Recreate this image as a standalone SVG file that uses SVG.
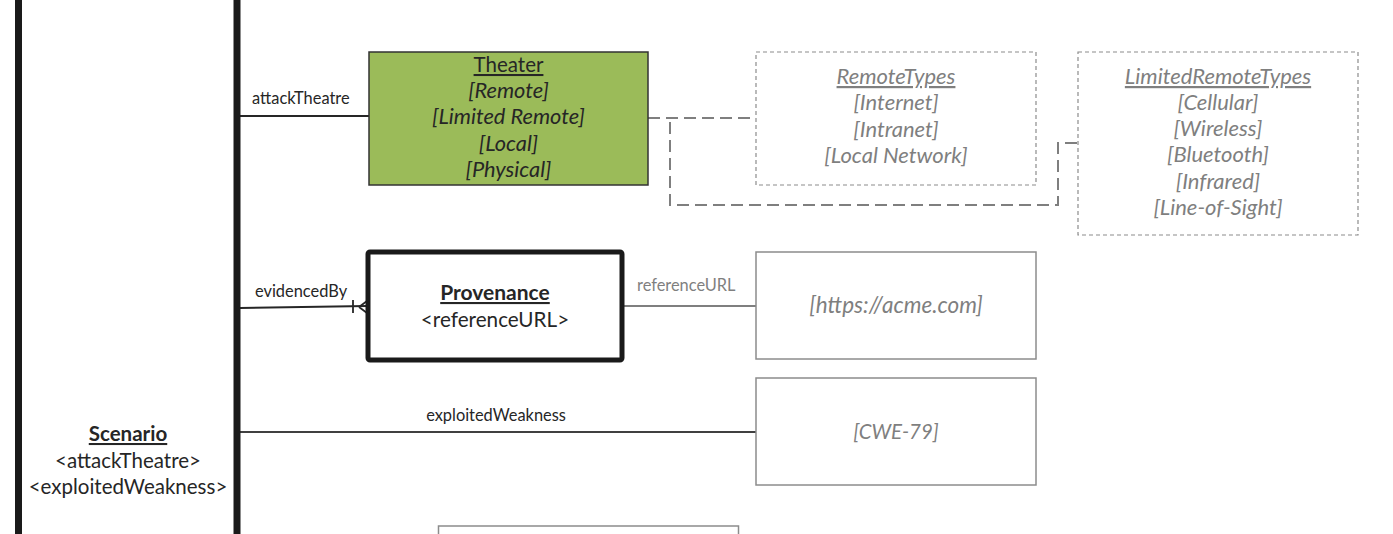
<svg xmlns="http://www.w3.org/2000/svg" width="1393" height="534" viewBox="0 0 1393 534">
<style>
text{font-family:Lato,"Open Sans","Liberation Sans",sans-serif;}
.c{text-anchor:middle;}
.it{font-style:italic;}
.u{text-decoration:underline;}
.b{font-weight:bold;}
.dk{fill:#262626;}
.gr{fill:#7f7f7f;}
.lbl{font-size:16.4px;fill:#262626;}
.dash{fill:#fff;stroke:#8c8c8c;stroke-width:1.2;stroke-dasharray:4 3;}
.plain{fill:#fff;stroke:#8c8c8c;stroke-width:1.5;}
.t20{font-size:20.5px;}
.t22{font-size:22px;}
</style>
<rect width="1393" height="534" fill="#fff"/>
<g id="connectors" fill="none">
<line x1="240" y1="116" x2="369" y2="116" stroke="#262626" stroke-width="2"/>
<path d="M648 118 H756" stroke="#7f7f7f" stroke-width="2" stroke-dasharray="12 6"/>
<path d="M670 122 V205 H1058 V143 H1078" stroke="#7f7f7f" stroke-width="2" stroke-dasharray="12 6"/>
<path d="M240 308 L367 306" stroke="#262626" stroke-width="2"/>
<path d="M353 300 V313 M359 307 L367 301 M359 307 L367 313" stroke="#262626" stroke-width="1.8"/>
<line x1="622" y1="306" x2="756" y2="306" stroke="#7f7f7f" stroke-width="2"/>
<line x1="240" y1="432" x2="756" y2="432" stroke="#404040" stroke-width="2"/>
</g>
<g id="labels">
<text class="lbl" x="252" y="104">attackTheatre</text>
<text class="lbl" x="255" y="297">evidencedBy</text>
<text class="lbl" x="637" y="291" style="fill:#7f7f7f">referenceURL</text>
<text class="lbl c" x="496" y="421">exploitedWeakness</text>
</g>
<g id="scenario">
<rect x="18.5" y="-10" width="218.5" height="560" fill="none" stroke="#1a1a1a" stroke-width="7"/>
<text class="c dk b u" x="128" y="441" font-size="20.5">Scenario</text>
<text class="c dk" x="128" y="468" font-size="20.5">&lt;attackTheatre&gt;</text>
<text class="c dk" x="128" y="494" font-size="20.5">&lt;exploitedWeakness&gt;</text>
</g>
<g id="theater">
<rect x="369" y="52" width="279" height="133" fill="#9bbb59" stroke="#333" stroke-width="1.5"/>
<text class="c dk u" x="508.5" y="72" font-size="20.5">Theater</text>
<text class="c dk it" x="508.5" y="98" font-size="21.8">[Remote]</text>
<text class="c dk it" x="508.5" y="124" font-size="21.8">[Limited Remote]</text>
<text class="c dk it" x="508.5" y="151" font-size="21.8">[Local]</text>
<text class="c dk it" x="508.5" y="177" font-size="21.8">[Physical]</text>
</g>
<g id="remoteTypes">
<rect class="dash" x="756" y="52" width="280" height="133"/>
<text class="c gr it u t22" x="896" y="84">RemoteTypes</text>
<text class="c gr it t22" x="896" y="110">[Internet]</text>
<text class="c gr it t22" x="896" y="137">[Intranet]</text>
<text class="c gr it t22" x="896" y="163">[Local Network]</text>
</g>
<g id="limitedRemoteTypes">
<rect class="dash" x="1078" y="52" width="280" height="183"/>
<text class="c gr it u t22" x="1218" y="84">LimitedRemoteTypes</text>
<text class="c gr it t22" x="1218" y="110">[Cellular]</text>
<text class="c gr it t22" x="1218" y="136">[Wireless]</text>
<text class="c gr it t22" x="1218" y="162">[Bluetooth]</text>
<text class="c gr it t22" x="1218" y="189">[Infrared]</text>
<text class="c gr it t22" x="1218" y="215">[Line-of-Sight]</text>
</g>
<g id="provenance">
<rect x="368" y="252" width="254" height="108" rx="2" fill="#fff" stroke="#1a1a1a" stroke-width="5"/>
<text class="c dk b u" x="495" y="300" font-size="21">Provenance</text>
<text class="c dk" x="495" y="327" font-size="20.7">&lt;referenceURL&gt;</text>
</g>
<g id="url">
<rect class="plain" x="756" y="252" width="280" height="107"/>
<text class="c gr it" x="896" y="313" font-size="22.5">[https://acme.com]</text>
</g>
<g id="cwe">
<rect class="plain" x="756" y="378" width="280" height="107"/>
<text class="c gr it" x="896" y="439" font-size="20.5">[CWE-79]</text>
</g>
<g id="bottomBox">
<rect class="plain" x="438.5" y="526" width="300" height="20"/>
</g>
</svg>
